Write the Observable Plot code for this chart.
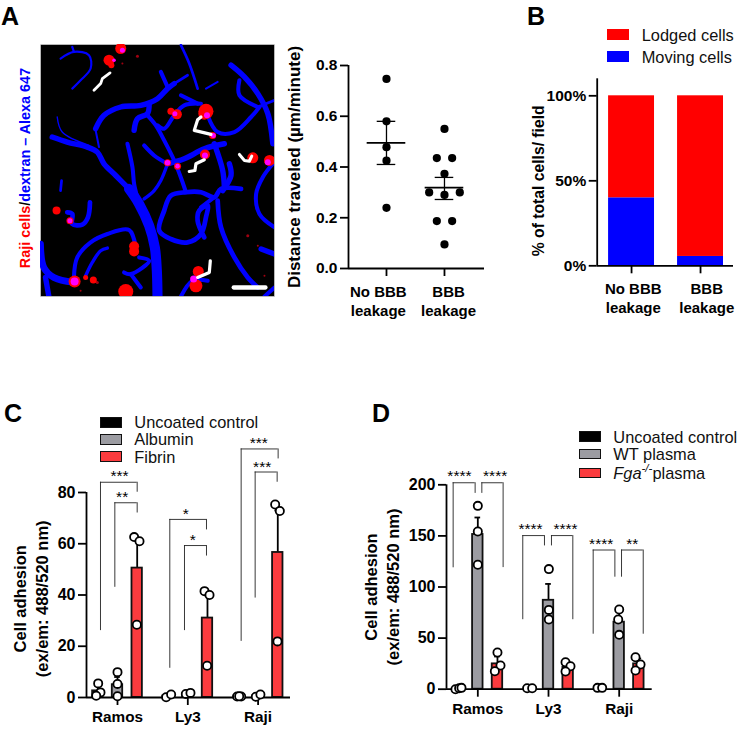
<!DOCTYPE html>
<html><head><meta charset="utf-8">
<script src="https://cdn.jsdelivr.net/npm/d3@7"></script>
<script src="https://cdn.jsdelivr.net/npm/@observablehq/plot@0.6"></script>
<style>
html,body{margin:0;padding:0;background:#fff}
#fig{position:relative;width:738px;height:751px;overflow:hidden;font-family:"Liberation Sans",Arial,sans-serif}
#fig svg{position:absolute;display:block}
.lab{position:absolute;white-space:nowrap;line-height:1}
.sw{position:absolute;box-sizing:border-box}
</style></head><body><div id="fig"></div>
<script>
// ---------- Panel A: micrograph trace, picture units ----------
const vessels = [
 [4,[[155,410],[200,425],[260,440],[290,455],[310,490],[345,525],[385,565]]],
 [7.5,[[385,565],[415,610],[445,675],[462,740],[468,810],[470,887]]],
 [3,[[380,430],[395,500],[400,550],[408,585]]],
 [4,[[285,385],[310,345],[360,320],[420,315],[470,295],[500,265],[520,250]]],
 [2,[[520,250],[560,225]]],
 [1.5,[[295,440],[285,390]]],
 [4,[[445,310],[440,340],[410,355],[400,390]]],
 [3,[[440,345],[465,375],[490,420],[520,480],[545,545],[555,575]]],
 [3,[[470,375],[490,385],[520,345],[550,315],[600,310]]],
 [3,[[430,435],[460,465],[500,490]]],
 [4,[[500,490],[550,475],[610,445],[670,430]]],
 [2.5,[[500,490],[480,540],[460,570],[430,595]]],
 [3,[[620,345],[650,395],[700,395],[750,350],[775,320]]],
 [4,[[690,195],[730,230],[770,280],[800,340],[815,430]]],
 [3,[[715,240],[715,285],[770,320]]],
 [2,[[770,320],[820,300]]],
 [4,[[640,430],[665,510],[670,560]]],
 [4,[[685,490],[690,525],[665,570]]],
 [3.5,[[720,565],[660,565],[640,590],[600,575],[555,575],[510,585],[490,630],[475,690],[510,715],[560,725],[600,700],[615,650],[620,615],[595,630],[590,660],[610,710]]],
 [3.5,[[650,600],[660,680],[700,770],[740,830],[770,860]]],
 [3,[[640,590],[600,620]]],
 [4,[[780,745],[820,760]]],
 [3,[[815,490],[785,530],[765,580],[775,640],[820,680]]],
 [1.6,[[180,175],[220,155],[265,165],[270,205],[240,240],[215,265]]],
 [1.6,[[220,155],[215,140]]],
 [2,[[540,135],[565,190],[590,265]]],
 [3,[[480,215],[500,260]]],
 [3,[[540,285],[590,310]]],
 [1.5,[[615,265],[650,245]]],
 [2,[[180,570],[183,540]]],
 [3.5,[[200,635],[215,640],[215,670],[245,672],[262,650],[268,605]]],
 [5,[[120,730],[130,800],[160,830],[220,845]]],
 [4,[[135,830],[145,887]]],
 [3,[[220,830],[230,770],[270,725],[320,700],[385,688],[405,740]]],
 [3,[[415,770],[445,780],[390,820],[370,815]]],
 [3,[[390,820],[420,860]]],
 [2.5,[[255,825],[275,785],[300,750],[320,742]]],
 [3,[[540,887],[575,840],[620,840]]],
 [3,[[790,887],[820,860]]],
 [1,[[170,350],[185,395],[265,435]]]
];
const tracks = [
 [2.8,[[280,270],[300,250],[305,235],[328,218]]],
 [3.2,[[630,402],[580,390],[590,358],[600,350]]],
 [3.2,[[565,513],[582,510],[585,490],[610,478]]],
 [3,[[715,462],[730,480],[745,482],[752,467]]],
 [3.2,[[590,830],[625,815],[628,780]]],
 [4.3,[[698,860],[793,860]]]
];
const redCells = [[360,145,5.5],[325,180,5.5],[332,195,3],[510,333,3.5],[528,342,5],[615,333,7.5],[610,340,6],[635,405,3.5],[755,472,5.5],[805,480,5.5],[612,462,5],[500,487,3.5],[530,497,3.5],[168,630,4],[208,660,3.5],[400,737,5],[400,752,5],[222,842,6],[255,830,2.5],[278,838,3.5],[375,872,7.5],[592,812,5.5],[585,855,6.5]];
const magentaSpots = [[365,150,2.5],[340,180,1.8],[522,340,2.5],[618,345,3],[637,405,2.5],[800,485,3],[612,465,3],[500,487,2.8],[530,497,2.3],[208,660,2.5],[222,842,4],[578,835,3.5]];
const specks = [[410,168,1.5],[365,190,1],[290,845,1.5],[740,705,1.5],[770,735,1],[240,870,1],[790,825,1]];
// ---------- Panel A: scatter ----------
const aGroups = ["No BBB\nleakage","BBB\nleakage"];
const aPointsX = [0,0,0,0,0, 1,.868,1.132,1,.736,1.264,1,.868,1.132,1];
const aPointsY = [.747,.58,.478,.425,.239, .55,.435,.435,.373,.30,.30,.29,.187,.187,.095];
const aMean = [.495,.319], aErrLow = [.41,.272], aErrHigh = [.58,.359];
// ---------- Panel B ----------
const bGroups = ["No BBB\nleakage","BBB\nleakage"];
const bMoving = [40,5.5], bLodged = [60,94.5];
// ---------- Panel C ----------
const groups = ["Ramos","Ly3","Raji"];
const cBarX = [-.28,0,.28, .72,1,1.28, 1.73,2,2.28];
const cBarKind = [0,1,2,0,1,2,0,1,2];
const cBarV = [2.6,5,50.5, .6,1.5,31, .5,.7,56.6];
const cErrTop = [4.6,8,61.5, 1,1.8,41, .6,1,73];
const cDotX = [-.275,-.242,-.303, 0,0,0, .237,.313,.275, .692,.763, .972,1.038, 1.238,1.309,1.275, 1.702,1.759,1.731, 1.968,2.033, 2.243,2.309,2.276];
const cDotY = [5.5,2,.7, 9.9,5.3,.5, 62.6,61,28.4, .1,1.2, 1.4,1.8, 41.5,40,12.4, .4,.4,.5, .3,1.2, 75.3,72.8,21.9];
const cBrackets = [[-.242,.28,84,26.1,80.1],[-.038,.28,76,43,72],[.744,1.266,69.5,11.4,65.4],[.953,1.266,59.3,26.1,55.2],[1.759,2.285,97,21.9,93.1],[1.958,2.271,88,38.8,84]];
const cStars = [[.028,87.7,"***"],[.066,79.7,"**"],[.972,72.9,"*"],[1.072,63,"*"],[2.01,100.5,"***"],[2.058,91.5,"***"]];
// ---------- Panel D ----------
const dBarX = [-.27,0,.278, .73,1,1.278, 1.73,2,2.278];
const dBarKind = [0,1,2,0,1,2,0,1,2];
const dBarV = [1,151.4,24.8, 1,87,21.5, 1.3,65.6,24.8];
const dErrTop = [1.3,168,32, 1,103,26,1.3,78,30];
const dDotX = [-.316,-.264,-.231, 0,0,0, .278,.321,.241, .698,.769, 1.005,1.005,1.005, 1.241,1.311,1.241, 1.693,1.759, 2,1.986,2, 2.231,2.302,2.231];
const dDotY = [0,1,1.3, 179.4,154.3,121.7, 35.9,23.2,17.6, 1,1, 117.5,77.6,68.2, 26.4,22.5,17.3, 1.3,1.3, 78,68.2,53.2, 31.3,24.1,18.3];
const dBrackets = [[-.349,-.038,202,118.8,191.6],[.057,.358,202,191.6,119],[.636,.943,150.3,68,140.2],[1.042,1.344,150.3,140.2,68],[1.632,1.939,136.2,53.8,109.6],[2.033,2.34,136.2,109.6,53.8]];
const dStars = [[-.26,211.7,"****"],[.245,211.7,"****"],[.745,160.5,"****"],[1.24,160.5,"****"],[1.745,145.8,"****"],[2.184,145.8,"**"]];

const kindColor = ["#000000","#9c9ca2","#fb3b3e"];
const FONT = '"Liberation Sans",Arial,sans-serif';
const fig = document.getElementById("fig");
const AW = 1.8;

function mount(plot, left, top){ plot.style.left = left+"px"; plot.style.top = top+"px"; fig.appendChild(plot); }
function panelPlot(box, inner, opts, marks){
  const [bx0,by0,bx1,by1] = box, [ix0,iy0,ix1,iy1] = inner;
  const p = Plot.plot({
    width:bx1-bx0, height:by1-by0,
    marginLeft:ix0-bx0, marginTop:iy0-by0, marginRight:bx1-ix1, marginBottom:by1-iy1,
    style:{fontFamily:FONT,fontSize:"15px",fontWeight:"bold",background:"transparent",overflow:"visible",color:"#000"},
    ...opts, marks
  });
  mount(p,bx0,by0); return p;
}
function flatten(list){ return list.flatMap(([w,pts],id)=>pts.map(([x,y])=>({id,w,x,y}))); }
const asDots = a => a.map(([x,y,r])=>({x,y,r}));
function axes(xMin,xMax,yTop,yTicks,xTicks,tf,tickPadY,fontY){
  return [
    Plot.ruleX([xMin],{y1:0,y2:yTop,strokeWidth:AW}),
    Plot.ruleY([0],{x1:xMin,x2:xMax,strokeWidth:AW}),
    Plot.axisY({ticks:yTicks,tickSize:8,tickPadding:tickPadY,strokeWidth:AW,label:null,anchor:"left",tickFormat:tf,fontSize:fontY,fontWeight:"bold"}),
    Plot.axisX({ticks:xTicks,tickSize:8,strokeWidth:AW,label:null,tickFormat:()=>"" ,anchor:"bottom"})
  ];
}
function titleY(text,x,y,size=16.5){
  return Plot.text([text],{x:()=>x,y:()=>y,rotate:-90,textAnchor:"middle",lineAnchor:"middle",fontSize:size,fontWeight:"bold",lineHeight:1.33});
}

// ---- A image
panelPlot([40,44,274,296],[40,44,274,296],{
  x:{domain:[120,820],axis:null}, y:{domain:[887,133],axis:null}, r:{type:"identity"}, clip:true
},[
  Plot.frame({fill:"#000",stroke:"#ddd",strokeWidth:.6}),
  Plot.line(flatten(vessels),{x:"x",y:"y",z:"id",stroke:"#0000ff",strokeWidth:d=>d.w*1.35,curve:"catmull-rom",strokeLinecap:"round",strokeLinejoin:"round",clip:"frame"}),
  Plot.dot(asDots(specks),{x:"x",y:"y",r:"r",fill:"#a00010",clip:"frame"}),
  Plot.dot(asDots(redCells),{x:"x",y:"y",r:"r",fill:"#ff0000",clip:"frame"}),
  Plot.dot(asDots(magentaSpots),{x:"x",y:"y",r:"r",fill:"#ff00ff",clip:"frame"}),
  Plot.line(flatten(tracks),{x:"x",y:"y",z:"id",stroke:"#fff",strokeWidth:"w",strokeLinejoin:"round",clip:"frame"})
]);

// ---- A scatter
panelPlot([283,55,500,325],[348,65,484,268],{
  x:{type:"linear",domain:[-.655,1.69]}, y:{domain:[0,.8]}
},[
  ...axes(-.655,1.69,.8,[0,.2,.4,.6,.8],[0,1],d3.format(".1f"),3,15.5),
  Plot.dot(aPointsX,{x:d=>d,y:(d,i)=>aPointsY[i],r:4.1,fill:"#000"}),
  Plot.ruleY(aMean,{y:d=>d,x1:(d,i)=>i-.333,x2:(d,i)=>i+.333,strokeWidth:1.8}),
  Plot.ruleX(aMean,{x:(d,i)=>i,y1:(d,i)=>aErrLow[i],y2:(d,i)=>aErrHigh[i],strokeWidth:1.3}),
  Plot.ruleY(aErrLow,{y:d=>d,x1:(d,i)=>i-.16,x2:(d,i)=>i+.16,strokeWidth:1.3}),
  Plot.ruleY(aErrHigh,{y:d=>d,x1:(d,i)=>i-.16,x2:(d,i)=>i+.16,strokeWidth:1.3}),
  Plot.text(aGroups,{x:(d,i)=>i+(i?0.07:-0.14),frameAnchor:"bottom",dy:15,lineAnchor:"top",lineHeight:1.27,fontSize:15,fontWeight:"bold"}),
  titleY("Distance traveled (µm/minute)",-1.61,.4,17)
]);

// ---- B stacked
const bRows = bGroups.flatMap((g,i)=>[{i,k:"Moving",a:0,b:bMoving[i],c:"#0000ff"},{i,k:"Lodged",a:bMoving[i],b:bMoving[i]+bLodged[i],c:"#ff0000"}]);
panelPlot([530,70,738,325],[596.7,78.3,733,265.3],{
  x:{type:"linear",domain:[-.498,1.478]}, y:{domain:[0,110]}, color:{type:"identity"}
},[
  Plot.rectY(bRows,{x1:d=>d.i-.333,x2:d=>d.i+.333,y1:"a",y2:"b",fill:"c",inset:0}),
  ...axes(-.498,1.478,110,[0,50,100],[0,1],d=>d+"%",3,15.5),
  Plot.text(bGroups,{x:(d,i)=>i+(i?0.09:0.025),frameAnchor:"bottom",dy:15,lineAnchor:"top",lineHeight:1.27,fontSize:15,fontWeight:"bold"}),
  titleY("% of total cells/ field",-1.37,50,15.7)
]);

// ---- C / D grouped bars
function barPanel(box,inner,xDom,yMax,yTicks,barX,kind,val,err,dotX,dotY,brackets,stars,titleX,titleYv){
  const bars = barX.map((x,i)=>({x,v:val[i],e:err[i],c:kindColor[kind[i]]}));
  const dots = dotX.map((x,i)=>({x,y:dotY[i]}));
  const br = brackets.map(([xl,xr,top,yl,yr])=>({xl,xr,top,yl,yr}));
  const st = stars.map(([x,y,s])=>({x,y,s}));
  panelPlot(box,inner,{x:{type:"linear",domain:xDom},y:{domain:[0,yMax]},color:{type:"identity"}},[
    Plot.ruleY(br,{y:"top",x1:"xl",x2:"xr",stroke:"#222",strokeWidth:.9}),
    Plot.ruleX(br,{x:"xl",y1:"yl",y2:"top",stroke:"#222",strokeWidth:.9}),
    Plot.ruleX(br,{x:"xr",y1:"yr",y2:"top",stroke:"#222",strokeWidth:.9}),
    Plot.text(st,{x:"x",y:"y",text:"s",fontSize:15.5,fontWeight:"normal",dy:3.5}),
    Plot.ruleX(bars,{x:"x",y1:"v",y2:"e",strokeWidth:AW}),
    Plot.ruleY(bars,{y:"e",x1:d=>d.x-.04,x2:d=>d.x+.04,strokeWidth:AW}),
    Plot.rectY(bars,{x1:d=>d.x-.074,x2:d=>d.x+.074,y1:0,y2:"v",fill:"c",stroke:"#111",strokeWidth:AW}),
    ...axes(xDom[0],xDom[1],yMax,yTicks,[0,1,2],d=>d,3,16),
    Plot.text(groups,{x:(d,i)=>i,frameAnchor:"bottom",dy:14,lineAnchor:"top",fontSize:15.3,fontWeight:"bold"}),
    Plot.dot(dots,{x:"x",y:"y",r:4.1,fill:"#fff",stroke:"#000",strokeWidth:1.8}),
    titleY("Cell adhesion\n(ex/em: 488/520 nm)",titleX,titleYv)
  ]);
}
barPanel([5,425,300,735],[86,492,290,697],[-.441,2.461],80,[0,20,40,60,80],cBarX,cBarKind,cBarV,cErrTop,cDotX,cDotY,cBrackets,cStars,-1.245,38.5);
barPanel([362,440,660,730],[446,484.3,651.7,688.7],[-.443,2.467],200,[0,50,100,150,200],dBarX,dBarKind,dBarV,dErrTop,dDotX,dDotY,dBrackets,dStars,-1.37,100);

// ---- HTML text and legends
function label(html,x,y,css){ const d=document.createElement("div"); d.className="lab"; d.innerHTML=html; d.style.left=x+"px"; d.style.top=y+"px"; d.style.transform="translateY(-50%)"; Object.assign(d.style,css||{}); fig.appendChild(d); return d; }
const panelLetters = [["A",1,16],["B",527,16],["C",4,413],["D",372,413]];
panelLetters.forEach(([t,x,y])=>label(t,x,y,{fontSize:"25px",fontWeight:"bold"}));
label('<span style="color:#ff0000">Raji cells</span><span style="color:#000">/</span><span style="color:#0000ff">dextran – Alexa 647</span>',25,168,{fontSize:"14.4px",fontWeight:"bold",transform:"translate(-50%,-50%) rotate(-90deg)"});
function legend(items,swX,swW,txtX,border){
  items.forEach(([html,color,yMid,h])=>{
    const s=document.createElement("div"); s.className="sw";
    Object.assign(s.style,{left:swX+"px",width:swW+"px",top:(yMid-h/2)+"px",height:h+"px",background:color,border:border?"1.7px solid #111":"none"});
    fig.appendChild(s);
    label(html,txtX,yMid,{fontSize:"16.4px",color:"#111"});
  });
}
const bLegend = [["Lodged cells","#ff0000",34.5,10.5],["Moving cells","#0000ff",56.5,10.5]];
const cLegend = [["Uncoated control",kindColor[0],422.3,10.5],["Albumin",kindColor[1],439.3,10.5],["Fibrin",kindColor[2],456.5,10.5]];
const dLegend = [["Uncoated control",kindColor[0],436.5,11],["WT plasma",kindColor[1],454,10.5],['<i>Fga</i><sup style="font-size:.7em;line-height:0"><i>-/-</i></sup>plasma',kindColor[2],473,10.5]];
legend(bLegend,607.3,22,641.7,false);
legend(cLegend,100,22,134.3,true);
legend(dLegend,579.3,21.5,613.3,true);
</script></body></html>
